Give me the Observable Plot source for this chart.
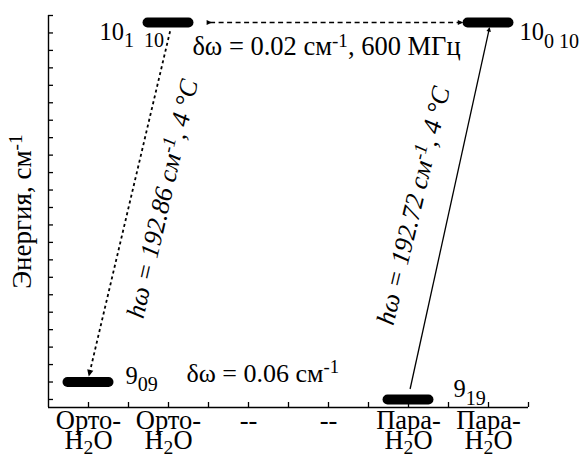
<!DOCTYPE html>
<html><head><meta charset="utf-8">
<script src="https://cdn.jsdelivr.net/npm/d3@7"></script>
<script src="https://cdn.jsdelivr.net/npm/@observablehq/plot@0.6"></script>
<style>
html,body{margin:0;padding:0;background:#fff;}
svg{display:block;}
</style></head><body>
<script>
// x-axis categories
const categoryPos = [1, 2, 3, 4, 5, 6];
const categoryLabels = ["Орто-\nH_[2]O", "Орто-\nH_[2]O", "--", "--", "Пара-\nH_[2]O", "Пара-\nH_[2]O"];
// y-axis ticks (schematic energy units, no labels)
const yTicks = d3.range(0, 23);
const xTicks = d3.range(1, 6.51, 0.5);

// energy levels
const levelNames = ["9_{09}", "10_{1\u00a0\u00a010}", "9_{19}", "10_{0\u00a010}"];
const levelPos = [1, 2, 5, 6];
const levelEnergy = [1, 21.6, 0, 21.6];

// transitions (indices into levels)
const transFrom = [1, 2];
const transTo = [0, 3];
const transLabels = ["hω = 192.86 см^{-1}, 4 °C", "hω = 192.72 см^{-1}, 4 °C"];
const transDash = ["3,3", null];

// splittings
const splitLabels = ["δω = 0.02 см^{-1}, 600 МГц", "δω = 0.06 см^{-1}"];

const levels = levelNames.map((name, i) => ({name, x: levelPos[i], e: levelEnergy[i]}));
const transitions = transFrom.map((f, i) => {
  const down = levels[f].e > levels[transTo[i]].e;
  return {
    x1: levels[f].x + 0.02, y1: levels[f].e + (down ? -0.5 : 0.6),
    x2: levels[transTo[i]].x + 0.01, y2: levels[transTo[i]].e + (down ? 0.45 : -0.35),
    label: transLabels[i], dash: transDash[i]
  };
});
// label placements (data units)
const levelLabelOffset = [{dx: 0.4625, dy: -0.085}, {dx: -0.8625, dy: -0.98}, {dx: 0.5625, dy: 0.113}, {dx: 0.3875, dy: -1.03}];
const transLabelPos = [{x: 1.925, y: 11.5, r: -77}, {x: 5.0625, y: 11.1, r: -76.5}];
const hop = {x1: levels[1].x + 0.52, x2: levels[3].x - 0.34, y: levels[1].e};

const font = "Liberation Serif, Times New Roman, serif";

const plot = Plot.plot({
  width: 582, height: 461,
  marginLeft: 48, marginRight: 54, marginTop: 15, marginBottom: 54,
  x: {domain: [0.5, 6.5]},
  y: {domain: [-0.46, 22]},
  style: {fontFamily: font, fontSize: "25px", color: "#000", background: "#fff"},
  marks: [
    Plot.axisY({ticks: yTicks, tickSize: -5, tickFormat: () => "", label: null, strokeWidth: 1.3}),
    Plot.axisX({ticks: xTicks, tickSize: -5, tickFormat: () => "", label: null, strokeWidth: 1.3}),
    Plot.ruleX([0.5], {stroke: "#000", strokeWidth: 1.4}),
    Plot.ruleY([-0.46], {stroke: "#000", strokeWidth: 1.4}),
    Plot.text(categoryPos, {x: d => d, text: (d, i) => categoryLabels[i], frameAnchor: "bottom", textAnchor: "middle", lineAnchor: "top", dy: 7, fontSize: 26.5, lineHeight: 0.77}),
    // energy levels
    Plot.ruleY(levels, {y: "e", x1: d => d.x - 0.256, x2: d => d.x + 0.256, stroke: "#000", strokeWidth: 10, strokeLinecap: "round"}),
    // transitions
    Plot.link(transitions.filter(d => d.dash), {x1: "x1", y1: "y1", x2: "x2", y2: "y2", stroke: "#000", strokeWidth: 1.8, strokeDasharray: "3,3", markerEnd: "arrow"}),
    Plot.link(transitions.filter(d => !d.dash), {x1: "x1", y1: "y1", x2: "x2", y2: "y2", stroke: "#000", strokeWidth: 1.3, markerEnd: "arrow"}),
    Plot.link([hop], {x1: "x1", x2: "x2", y1: "y", y2: "y", stroke: "#000", strokeWidth: 1.5, strokeDasharray: "5,3.5", markerStart: "arrow", markerEnd: "arrow"}),
    // level labels
    Plot.text(levels, {x: (d, i) => d.x + levelLabelOffset[i].dx, y: (d, i) => d.e + levelLabelOffset[i].dy, text: "name", textAnchor: "start", lineAnchor: "bottom", fontSize: 24.5}),
    // transition labels
    Plot.text(transitions, {x: (d, i) => transLabelPos[i].x, y: (d, i) => transLabelPos[i].y, text: "label", rotate: (d, i) => transLabelPos[i].r, fontStyle: "italic", fontSize: 26, textAnchor: "middle", lineAnchor: "middle"}),
    // splitting labels
    Plot.text([splitLabels[0]], {x: 3.975, y: 19.72, text: d => d, textAnchor: "middle", lineAnchor: "bottom", fontSize: 26.5}),
    Plot.text([splitLabels[1]], {x: 2.225, y: 1.0, text: d => d, textAnchor: "start", lineAnchor: "bottom", fontSize: 26}),
    // y axis label
    Plot.text(["Энергия, см^{-1}"], {frameAnchor: "left", dx: -26, text: d => d, rotate: -90, fontSize: 27, textAnchor: "middle", lineAnchor: "middle"})
  ]
});
document.body.append(plot);

// rich text: _{sub}, _[low sub] and ^{sup}
function richify(root) {
  const pat = /([_^])(\{([^}]*)\}|\[([^\]]*)\])/;
  const nodes = Array.from(root.querySelectorAll("text, tspan")).filter(el =>
    Array.from(el.childNodes).every(n => n.nodeType === 3) && pat.test(el.textContent));
  for (const el of nodes) {
    const fs = parseFloat(getComputedStyle(el).fontSize) || 25;
    const s = el.textContent;
    el.textContent = "";
    const re = /([_^])(\{([^}]*)\}|\[([^\]]*)\])/g;
    let last = 0, m, cur = 0;
    const add = (txt, off, scale) => {
      const t = document.createElementNS("http://www.w3.org/2000/svg", "tspan");
      t.textContent = txt;
      const d = off - cur;
      if (d) t.setAttribute("dy", d);
      cur = off;
      if (scale !== 1) t.setAttribute("font-size", fs * scale);
      el.appendChild(t);
    };
    while ((m = re.exec(s))) {
      if (m.index > last) add(s.slice(last, m.index), 0, 1);
      if (m[1] === "_" && m[4] !== undefined) add(m[4], fs * 0.16, 0.74);
      else if (m[1] === "_") add(m[3], fs * 0.3, 0.82);
      else add(m[3], -fs * 0.33, 0.72);
      last = re.lastIndex;
    }
    if (last < s.length) add(s.slice(last), 0, 1);
  }
}
richify(plot);
// filled triangular arrowheads
plot.querySelectorAll("marker").forEach(mk => {
  mk.setAttribute("stroke", "none");
  mk.setAttribute("fill", "#000");
  const p = mk.querySelector("path");
  p.setAttribute("d", "M-3.5,-2.6L2,0L-3.5,2.6Z");
  p.setAttribute("stroke-dasharray", "none");
});
</script>
</body></html>
